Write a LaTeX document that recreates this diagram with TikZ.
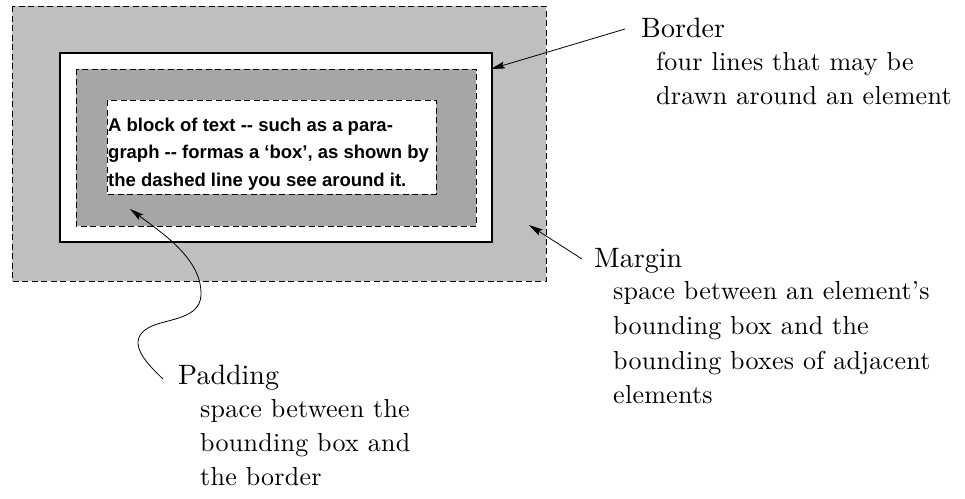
\documentclass[tikz,border=0pt]{standalone}
\usepackage{fontspec}
\newfontfamily\blkfont{Liberation Sans}
\newfontfamily\lblfont{lmroman10-regular.otf}
\newfontfamily\descfont{lmroman10-regular.otf}[LetterSpace=1]
\usetikzlibrary{arrows.meta}
\definecolor{margingray}{RGB}{191,191,191}
\definecolor{paddinggray}{RGB}{166,166,166}
\tikzset{
  dashedbox/.style={draw=black, line width=0.8pt, dash pattern=on 6pt off 3.5pt},
  solidbox/.style={draw=black, line width=1.1pt},
  lbl/.style={anchor=base west, inner sep=0pt, font=\lblfont\fontsize{28}{32}\selectfont},
  desc/.style={anchor=base west, inner sep=0pt, font=\descfont\fontsize{26}{30}\selectfont},
  blk/.style={anchor=base west, inner sep=0pt, font=\blkfont\bfseries\fontsize{18.5}{22}\selectfont},
  pointer/.style={line width=0.8pt, -{Stealth[length=14pt,width=7pt,inset=2.5pt]}},
}
\begin{document}
\begin{tikzpicture}[x=1pt,y=-1pt]
\useasboundingbox (0,0) rectangle (965,498);
% boxes
\path[fill=margingray, dashedbox] (12,6) rectangle (546,281);
\path[fill=white, solidbox] (60,53) rectangle (492,242);
\path[fill=paddinggray, dashedbox] (76,69) rectangle (476,226);
\path[fill=white, dashedbox] (107,100) rectangle (436,194);
% content text
\node[blk] (t1) at (108,131) {A block of text -{}- such as a para-};
\node[blk] (t2) at (108,158.5) {graph -{}- formas a ‘box’, as shown by};
\node[blk] (t3) at (108,186) {the dashed line you see around it.};
% labels
\node[lbl] (border) at (641,37) {Border};
\node[desc] (bd1) at (656,70) {four lines that may be};
\node[desc] (bd2) at (656,104) {drawn around an element};
\node[lbl] (margin) at (594,267) {Margin};
\node[desc] (md1) at (613,299) {space between an element’s};
\node[desc] (md2) at (613,334) {bounding box and the};
\node[desc] (md3) at (613,369) {bounding boxes of adjacent};
\node[desc] (md4) at (613,403) {elements};
\node[lbl] (padding) at (178,384) {Padding};
\node[desc] (pd1) at (200,417) {space between the};
\node[desc] (pd2) at (200,451) {bounding box and};
\node[desc] (pd3) at (200,485) {the border};
% arrow ends
\coordinate (bordertip) at (491,69);
\coordinate (margintip) at (529,225);
\coordinate (paddingtip) at (130,209);
\coordinate (borderstart) at (625,29);
\coordinate (marginstart) at (582,259);
\coordinate (paddingstart) at (163,379);
\draw[pointer] (borderstart) -- (bordertip);
\draw[pointer] (marginstart) -- (margintip);
\draw[pointer] (paddingstart) .. controls (145,362) and (128,343) .. (145,330)
  .. controls (160,318) and (200,322) .. (201,295)
  .. controls (202,260) and (165,235) .. (paddingtip);
\end{tikzpicture}
\end{document}
